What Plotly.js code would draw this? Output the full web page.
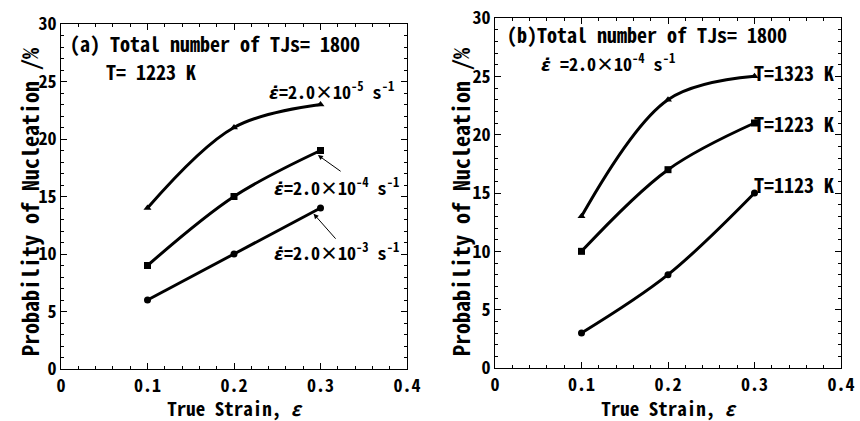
<!DOCTYPE html>
<html>
<head>
<meta charset="utf-8">
<script src="https://cdn.plot.ly/plotly-3.0.1.min.js"></script>
<style>html,body{margin:0;padding:0;background:#fff;}#chart{width:860px;height:421px;}</style>
</head>
<body>
<div id="chart"></div>
<script>
// ---- data ----
const strain = [0.1, 0.2, 0.3];
// panel (a): T = 1223 K, different strain rates
const rateLabelsA = ["2.0×10<sup>-5</sup>", "2.0×10<sup>-4</sup>", "2.0×10<sup>-3</sup>"];
const probA_2e5 = [14, 21, 23];
const probA_2e4 = [9, 15, 19];
const probA_2e3 = [6, 10, 14];
// panel (b): strain rate 2.0e-4, different temperatures
const tempLabelsB = ["T=1323 K", "T=1223 K", "T=1123 K"];
const probB_1323 = [13, 23, 25];
const probB_1223 = [10, 17, 21];
const probB_1123 = [3, 8, 15];
const xTicks = [0, 0.1, 0.2, 0.3, 0.4];
const xTickText = ["0", "0.1", "0.2", "0.3", "0.4"];
const yTicks = [0, 5, 10, 15, 20, 25, 30];
const yTitle = 'Probability of Nucleation /%';
const xTitle = 'True Strain, <i>ε</i>';

const MONO = '"Noto Sans Mono CJK JP", "DejaVu Sans Mono", monospace';
const lineStyle = {color: '#000', width: 3, shape: 'spline', smoothing: 1};

function tr(y, sym, xa, ya, name) {
  return {x: strain, y: y, type: 'scatter', mode: 'lines+markers', name: name,
    xaxis: xa, yaxis: ya, line: lineStyle,
    marker: {symbol: sym, size: 7, color: '#000'}, showlegend: false, hoverinfo: 'x+y'};
}

const data = [
  tr(probA_2e5, 'triangle-up', 'x', 'y', 'a1'),
  tr(probA_2e4, 'square', 'x', 'y', 'a2'),
  tr(probA_2e3, 'circle', 'x', 'y', 'a3'),
  tr(probB_1323, 'triangle-up', 'x2', 'y2', 'b1'),
  tr(probB_1223, 'square', 'x2', 'y2', 'b2'),
  tr(probB_1123, 'circle', 'x2', 'y2', 'b3')
];

function xax(domain, anchor) {
  return {domain: domain, anchor: anchor, range: [0, 0.4], tickvals: xTicks, ticktext: xTickText,
    ticks: 'inside', ticklen: 6, tickcolor: '#000', showline: true, linecolor: '#000', linewidth: 1,
    mirror: 'ticks', showgrid: false, zeroline: false, automargin: false,
    minor: {dtick: 0.02, ticks: 'inside', ticklen: 3, tickcolor: '#000', showgrid: false},
    tickfont: {family: MONO, size: 18, color: '#000', weight: 'bold'},
    title: {text: xTitle, font: {family: MONO, size: 19, color: '#000', weight: 'bold'}, standoff: 11}};
}
function yax(domain, anchor) {
  return {domain: domain, anchor: anchor, range: [0, 30], tickvals: yTicks,
    ticks: 'inside', ticklen: 6, tickcolor: '#000', showline: true, linecolor: '#000', linewidth: 1,
    mirror: 'ticks', showgrid: false, zeroline: false, automargin: false,
    minor: {dtick: 1, ticks: 'inside', ticklen: 3, tickcolor: '#000', showgrid: false},
    tickfont: {family: MONO, size: 18, color: '#000', weight: 'bold'}};
}

const W = 860, H = 421;
const f = {family: MONO, size: 20, color: '#000', weight: 'bold'};
const fs = {family: MONO, size: 18, color: '#000', weight: 'bold'};
const ft = {family: MONO, size: 22, color: '#000', weight: 'bold'};
function ann(text, x, y, xref, yref, font, xanchor) {
  return {text: text, x: x, y: y, xref: xref, yref: yref, showarrow: false, font: font, xanchor: xanchor || 'left', yanchor: 'middle'};
}
function ytitle(xpx, ypx) {
  return {text: yTitle, x: xpx / W, y: 1 - ypx / H, xref: 'paper', yref: 'paper', showarrow: false,
    textangle: -90, font: ft, xanchor: 'center', yanchor: 'middle'};
}
const edot = '<span style="font-family:DejaVu Sans"><i>ε̇</i></span>';
const annotations = [
  ytitle(29, 202),
  ytitle(460, 202),
  ann('(a) Total number of TJs= 1800', 0.008, 28.3, 'x', 'y', f),
  ann('T= 1223 K', 0.05, 25.9, 'x', 'y', f),
  ann(edot + '=' + rateLabelsA[0] + ' s<sup>-1</sup>', 0.238, 24.3, 'x', 'y', fs),
  ann(edot + '=' + rateLabelsA[1] + ' s<sup>-1</sup>', 0.244, 15.9, 'x', 'y', fs),
  ann(edot + '=' + rateLabelsA[2] + ' s<sup>-1</sup>', 0.244, 10.3, 'x', 'y', fs),
  {x: 0.297, y: 18.6, ax: 0.325, ay: 17.1, xref: 'x', yref: 'y', axref: 'x', ayref: 'y', showarrow: true, arrowhead: 2, arrowsize: 1, arrowwidth: 1, arrowcolor: '#000', text: ''},
  {x: 0.292, y: 13.5, ax: 0.319, ay: 11.2, xref: 'x', yref: 'y', axref: 'x', ayref: 'y', showarrow: true, arrowhead: 2, arrowsize: 1, arrowwidth: 1, arrowcolor: '#000', text: ''},
  ann('(b)Total number of TJs= 1800', 0.011, 28.6, 'x2', 'y2', f),
  ann(edot + ' =2.0×10<sup>-4</sup> s<sup>-1</sup>', 0.051, 26.2, 'x2', 'y2', fs),
  ann(tempLabelsB[0], 0.297, 25.3, 'x2', 'y2', f),
  ann(tempLabelsB[1], 0.297, 21.0, 'x2', 'y2', f),
  ann(tempLabelsB[2], 0.297, 15.7, 'x2', 'y2', f)
];

const layout = {
  width: W, height: H, margin: {l: 0, r: 0, t: 0, b: 0},
  paper_bgcolor: '#fff', plot_bgcolor: '#fff', showlegend: false,
  xaxis: xax([61 / W, 407 / W], 'y'),
  yaxis: yax([1 - 369 / H, 1 - 24 / H], 'x'),
  xaxis2: xax([495 / W, 841 / W], 'y2'),
  yaxis2: yax([1 - 368 / H, 1 - 18 / H], 'x2'),
  annotations: annotations
};

Plotly.newPlot('chart', data, layout, {displayModeBar: false, staticPlot: true});
</script>
</body>
</html>
